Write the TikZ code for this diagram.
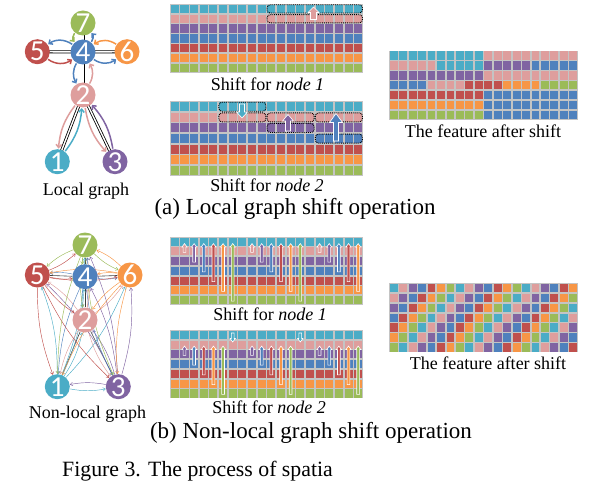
\documentclass[tikz,border=0pt]{standalone}
\usepackage{fontspec}
\setmainfont{Liberation Serif}
\newfontfamily\numfont{Carlito}
\usetikzlibrary{arrows.meta,calc}
\definecolor{k1}{HTML}{4BACC6}
\definecolor{k2}{HTML}{DE9E9D}
\definecolor{k3}{HTML}{8064A2}
\definecolor{k4}{HTML}{4F81BD}
\definecolor{k5}{HTML}{C0504D}
\definecolor{k6}{HTML}{F79646}
\definecolor{k7}{HTML}{9BBB59}
\definecolor{gridgrey}{HTML}{C4C4C4}
\pgfdeclarelayer{bg}
\pgfsetlayers{bg,main}
% grid: x0, y0, cell w, cell h, runs row/colA/colB/color
\newcommand{\featgrid}[5]{%
  \fill[gridgrey] (#1,#2) rectangle ({#1+20*#3},{#2+7*#4});
  \foreach \r/\a/\b/\k in {#5} {
    \foreach \c in {\a,...,\b} {
      \fill[fill=k\k] ({#1+\c*#3+0.8},{#2+\r*#4+0.8}) rectangle ({#1+(\c+1)*#3-0.8},{#2+(\r+1)*#4-0.8});
    }
  }
}
% dotted selection: x0,y0,w,h,row,colA,colB
\newcommand{\selrect}[7]{%
  \draw[selbox] ({#1+#6*#3+0.6},{#2+#5*#4+0.8}) rectangle ({#1+(#7+1)*#3-0.6},{#2+(#5+1)*#4-0.8});
}
% block arrow: colour, x, ytail, yheadbase, ytip, half shaft, half head
\newcommand{\barrow}[7]{%
  \filldraw[fill=#1, draw=white, line width=0.6pt] ({#2-#6},#3) -- ({#2-#6},#4) -- ({#2-#7},#4) -- (#2,#5) -- ({#2+#7},#4) -- ({#2+#6},#4) -- ({#2+#6},#3) -- cycle;
}
\tikzset{
  gnode/.style={circle, inner sep=0pt, minimum size=25pt, text=white, font=\numfont\fontsize{29}{29}\selectfont},
  ledge/.style={draw=black, double=white, double distance=1.4pt, line width=0.8pt},
  larrow/.style={line width=1.5pt, -{Straight Barb[length=3pt,width=5.5pt]}, shorten <=0.5pt, shorten >=0.5pt},
  nlarrow/.style={line width=0.45pt, -{Straight Barb[length=2.5pt,width=3.5pt]}},
  lbl/.style={font=\fontsize{18}{20}\selectfont, anchor=base, inner sep=0pt},
  sub/.style={font=\fontsize{23}{26}\selectfont, anchor=base, inner sep=0pt},
  selbox/.style={densely dotted, line width=0.9pt, rounded corners=3pt},
}
\begin{document}
\begin{tikzpicture}[x=1pt,y=-1pt]
\useasboundingbox (0,0) rectangle (593,486);

% ---------- local graph ----------
\node[gnode, fill=k7] (L7) at (83,23) {7};
\node[gnode, fill=k5] (L5) at (37.3,51.7) {5};
\node[gnode, fill=k4] (L4) at (83,52) {4};
\node[gnode, fill=k6] (L6) at (127,51.7) {6};
\node[gnode, fill=k2] (L2) at (83,95) {2};
\node[gnode, fill=k1] (L1) at (57.3,161.7) {1};
\node[gnode, fill=k3] (L3) at (115,161.7) {3};
\begin{pgfonlayer}{bg}
\foreach \a/\b/\bnd in {7/4/40,5/4/35,4/6/35,4/2/30,2/1/16,2/3/16} {
  \draw[ledge] (L\a.center) -- (L\b.center);
  \draw[larrow, color=k\a] (L\a) to[bend right=\bnd] (L\b);
  \draw[larrow, color=k\b] (L\b) to[bend right=\bnd] (L\a);
}
\end{pgfonlayer}
\node[lbl] (tlg) at (86,195) {Local graph};

% ---------- non-local graph ----------
\node[gnode, fill=k7] (N7) at (85,245) {7};
\node[gnode, fill=k5] (N5) at (37.3,275) {5};
\node[gnode, fill=k4] (N4) at (85,276.7) {4};
\node[gnode, fill=k6] (N6) at (130,275) {6};
\node[gnode, fill=k2] (N2) at (85,320) {2};
\node[gnode, fill=k1] (N1) at (57.3,386.7) {1};
\node[gnode, fill=k3] (N3) at (118.3,386.7) {3};
\begin{pgfonlayer}{bg}
\foreach \a/\b in {7/4,5/4,4/6,4/2,2/1,2/3} {
  \draw[line width=0.6pt, black!75] (N\a) -- (N\b);
}
\foreach \i in {1,...,7} {
  \foreach \j in {1,...,7} {
    \ifnum\i=\j\relax\else
      \draw[nlarrow, color=k\i] (N\i) to[bend right=10] (N\j);
    \fi
  }
}
\end{pgfonlayer}
\node[lbl] (tnl) at (87.5,418) {Non-local graph};

% ---------- local shift grids ----------
\featgrid{170}{4}{9.65}{9.85}{0/0/19/1,1/0/19/2,2/0/19/3,3/0/19/4,4/0/19/5,5/0/19/6,6/0/19/7}
\selrect{170}{4}{9.65}{9.85}{0}{10}{19}
\selrect{170}{4}{9.65}{9.85}{1}{10}{19}
\barrow{k2}{313.5}{19.5}{12.5}{7}{3}{5.5}
\node[lbl] (ts1) at (267.5,91) {Shift for \textit{node 1}};

\featgrid{170}{101.5}{9.65}{10.6}{0/0/19/1,1/0/19/2,2/0/19/3,3/0/19/4,4/0/19/5,5/0/19/6,6/0/19/7}
\selrect{170}{101.5}{9.65}{10.6}{0}{5}{9}
\selrect{170}{101.5}{9.65}{10.6}{1}{5}{9}
\selrect{170}{101.5}{9.65}{10.6}{1}{10}{14}
\selrect{170}{101.5}{9.65}{10.6}{1}{15}{19}
\selrect{170}{101.5}{9.65}{10.6}{2}{10}{14}
\selrect{170}{101.5}{9.65}{10.6}{3}{15}{19}
\barrow{k1}{242}{104}{112}{118}{2.5}{5.5}
\barrow{k3}{288}{131}{121}{114.5}{2.5}{5.5}
\barrow{k4}{336}{141}{122.5}{113.5}{2.5}{6.5}
\node[lbl] (ts2) at (267,192) {Shift for \textit{node 2}};

\featgrid{389}{50.7}{9.45}{9.9}{0/0/9/1,0/10/19/2,1/0/4/2,1/5/9/1,1/10/14/3,1/15/19/4,2/0/9/3,2/10/19/2,3/0/3/4,3/4/7/2,3/8/11/5,3/12/15/6,3/16/19/7,4/0/9/5,4/10/19/4,5/0/9/6,5/10/19/4,6/0/9/7,6/10/19/4}
\node[lbl] (tf1) at (483,137.3) {The feature after shift};

\node[sub] (tca) at (295,214.5) {(a) Local graph shift operation};

% ---------- non-local shift grids ----------
\featgrid{170}{236.7}{9.65}{9.76}{0/0/19/1,1/0/19/2,2/0/19/3,3/0/19/4,4/0/19/5,5/0/19/6,6/0/19/7}
\foreach \c in {0,...,19} {
  \pgfmathtruncatemacro\k{mod(\c,7)}
  \pgfmathtruncatemacro\kk{\k+1}
  \ifnum\k>0
    \pgfmathsetmacro\xx{170+(\c+0.5)*9.65}
    \pgfmathsetmacro\yt{236.7+(\k+0.5)*9.76+1}
    \barrow{k\kk}{\xx}{\yt}{247.1}{243.6}{1.4}{2.6}
  \fi
}
\node[lbl] (ts3) at (270,320.7) {Shift for \textit{node 1}};

\featgrid{170}{330}{9.65}{9.76}{0/0/19/1,1/0/19/2,2/0/19/3,3/0/19/4,4/0/19/5,5/0/19/6,6/0/19/7}
\foreach \c in {0,...,19} {
  \pgfmathtruncatemacro\k{mod(\c+1,7)}
  \pgfmathtruncatemacro\kk{\k+1}
  \pgfmathsetmacro\xx{170+(\c+0.5)*9.65}
  \ifnum\k>1
    \pgfmathsetmacro\yt{330+(\k+0.5)*9.76+1}
    \barrow{k\kk}{\xx}{\yt}{349.6}{346.1}{1.4}{2.6}
  \fi
  \ifnum\k=0
    \barrow{k\kk}{\xx}{333}{338.5}{342}{1.4}{2.6}
  \fi
}
\node[lbl] (ts4) at (269,413.3) {Shift for \textit{node 2}};

\fill[gridgrey] (389,283) rectangle ({389+20*9.45},{283+7*9.9});
\foreach \r in {0,...,6} {
  \foreach \c in {0,...,19} {
    \pgfmathtruncatemacro\kk{mod(\r+\c,7)+1}
    \fill[fill=k\kk] ({389+\c*9.45+0.8},{283+\r*9.9+0.8}) rectangle ({389+(\c+1)*9.45-0.8},{283+(\r+1)*9.9-0.8});
  }
}
\node[lbl] (tf2) at (488,369) {The feature after shift};

\node[sub] (tcb) at (311,438) {(b) Non-local graph shift operation};
\node[font=\fontsize{21.8}{24}\selectfont, anchor=base west, inner sep=0pt] (tfig) at (62,476.5) {Figure 3. The process of spatia};
\end{tikzpicture}
\end{document}
